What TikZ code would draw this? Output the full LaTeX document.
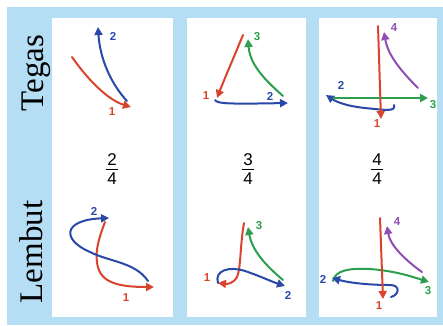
\documentclass[tikz,border=0pt]{standalone}
\usepackage{fontspec}
\setmainfont{Liberation Serif}
\setsansfont{Liberation Sans}
\usetikzlibrary{arrows.meta}
\definecolor{bgblue}{RGB}{181,222,244}
\definecolor{sred}{RGB}{218,68,46}
\definecolor{sblue}{RGB}{42,72,170}
\definecolor{sgreen}{RGB}{44,158,78}
\definecolor{spurple}{RGB}{142,78,180}
\tikzset{
  stroke/.style={line width=2pt,-{Triangle[length=8pt,width=8pt]},line cap=round},
  num/.style={font=\sffamily\bfseries\fontsize{11.5}{11.5}\selectfont,inner sep=0pt},
  side/.style={font=\fontsize{33}{33}\selectfont,rotate=90,anchor=base,inner sep=0pt},
  frac/.style={font=\sffamily\fontsize{17}{17}\selectfont,inner sep=0pt},
  panel/.style={fill=white,draw=none}
}
\begin{document}
\begin{tikzpicture}[x=1pt,y=-1pt]
\useasboundingbox (0,0) rectangle (443,325);
\fill[white] (0,0) rectangle (443,325);
\fill[bgblue] (7,7) rectangle (443,325);
\fill[panel] (52,18) rectangle (173,317);
\fill[panel] (187,18) rectangle (306,317);
\fill[panel] (319,18) rectangle (437,317);
% side labels
\node[side] (tegas) at (43,73) {Tegas};
\node[side] (lembut) at (42,252) {Lembut};
% fractions
\foreach \n/\x/\t in {f2/112/2, f3/248/3, f4/377/4}{
  \node[frac] (\n n) at (\x,160) {\t};
  \node[frac] (\n d) at (\x,179) {4};
  \draw[line width=1pt] (\x-6,169) -- (\x+6,169);
}
% ---------- Tegas 2/4
\coordinate (a1s) at (72,57); \coordinate (a1e) at (131,107);
\coordinate (a2s) at (127,101); \coordinate (a2e) at (98,27);
\draw[stroke,sred] (a1s) .. controls (88,80) and (108,100) .. (a1e);
\draw[stroke,sblue] (a2s) .. controls (112,85) and (100,60) .. (a2e);
\node[num,sred] (a1l) at (112,112) {1};
\node[num,sblue] (a2l) at (113,36) {2};
% ---------- Tegas 3/4
\coordinate (b1s) at (243,35); \coordinate (b1e) at (217,98);
\coordinate (b2s) at (215,100); \coordinate (b2e) at (288,103);
\coordinate (b3s) at (283,96); \coordinate (b3e) at (248,39);
\draw[stroke,sred] (b1s) .. controls (236,52) and (224,80) .. (b1e);
\draw[stroke,sblue] (b2s) .. controls (217,104) and (232,104) .. (b2e);
\draw[stroke,sgreen] (b3s) .. controls (265,80) and (250,65) .. (b3e);
\node[num,sred] (b1l) at (206,96) {1};
\node[num,sblue] (b2l) at (270,96) {2};
\node[num,sgreen] (b3l) at (257,37) {3};
% ---------- Tegas 4/4
\coordinate (c1s) at (378,26); \coordinate (c1e) at (381,119);
\coordinate (c2s) at (394,105); \coordinate (c2e) at (326,95);
\coordinate (c3s) at (333,98); \coordinate (c3e) at (428,98);
\coordinate (c4s) at (418,88); \coordinate (c4e) at (384,32);
\draw[stroke,sblue] (c2s) .. controls (396,112) and (385,110) .. (365,108) .. controls (345,106) and (335,101) .. (c2e);
\draw[stroke,sgreen] (c3s) -- (c3e);
\draw[stroke,sred] (c1s) -- (c1e);
\draw[stroke,spurple] (c4s) .. controls (400,70) and (388,55) .. (c4e);
\node[num,sred] (c1l) at (377,124) {1};
\node[num,sblue] (c2l) at (341,85) {2};
\node[num,sgreen] (c3l) at (433,105) {3};
\node[num,spurple] (c4l) at (394,28) {4};
% ---------- Lembut 2/4
\coordinate (d1s) at (105,222); \coordinate (d1e) at (154,287);
\coordinate (d2s) at (148,281); \coordinate (d2e) at (109,218);
\draw[stroke,sred] (d1s) .. controls (100,235) and (95,250) .. (97,262) .. controls (99,280) and (112,287) .. (d1e);
\draw[stroke,sblue] (d2s) .. controls (135,262) and (110,262) .. (90,252) .. controls (62,240) and (62,220) .. (d2e);
\node[num,sred] (d1l) at (126,298) {1};
\node[num,sblue] (d2l) at (94,211) {2};
% ---------- Lembut 3/4
\coordinate (e1s) at (244,223); \coordinate (e1e) at (218,283);
\coordinate (e2s) at (218,283); \coordinate (e2e) at (285,286);
\coordinate (e3s) at (283,280); \coordinate (e3e) at (248,227);
\draw[stroke,sred] (e1s) .. controls (240,245) and (241,268) .. (237,277) .. controls (233,284) and (227,284) .. (e1e);
\draw[stroke,sblue] (e2s) .. controls (214,270) and (230,266) .. (245,271) .. controls (260,276) and (270,281) .. (e2e);
\draw[stroke,sgreen] (e3s) .. controls (265,265) and (252,250) .. (e3e);
\node[num,sred] (e1l) at (207,278) {1};
\node[num,sblue] (e2l) at (288,295) {2};
\node[num,sgreen] (e3l) at (259,226) {3};
% ---------- Lembut 4/4
\coordinate (f1s) at (380,218); \coordinate (f1e) at (383,299);
\coordinate (f2s) at (391,297); \coordinate (f2e) at (332,278);
\coordinate (f3s) at (333,281); \coordinate (f3e) at (429,282);
\coordinate (f4s) at (422,272); \coordinate (f4e) at (387,226);
\draw[stroke,sgreen] (f3s) .. controls (335,270) and (350,268) .. (370,269) .. controls (395,271) and (410,276) .. (f3e);
\draw[stroke,sblue] (f2s) .. controls (399,295) and (401,285) .. (390,285) .. controls (370,285) and (350,283) .. (f2e);
\draw[stroke,sred] (f1s) -- (f1e);
\draw[stroke,spurple] (f4s) .. controls (405,260) and (390,245) .. (f4e);
\node[num,sred] (f1l) at (379,306) {1};
\node[num,sblue] (f2l) at (323,279) {2};
\node[num,sgreen] (f3l) at (428,291) {3};
\node[num,spurple] (f4l) at (397,222) {4};
\end{tikzpicture}
\end{document}
